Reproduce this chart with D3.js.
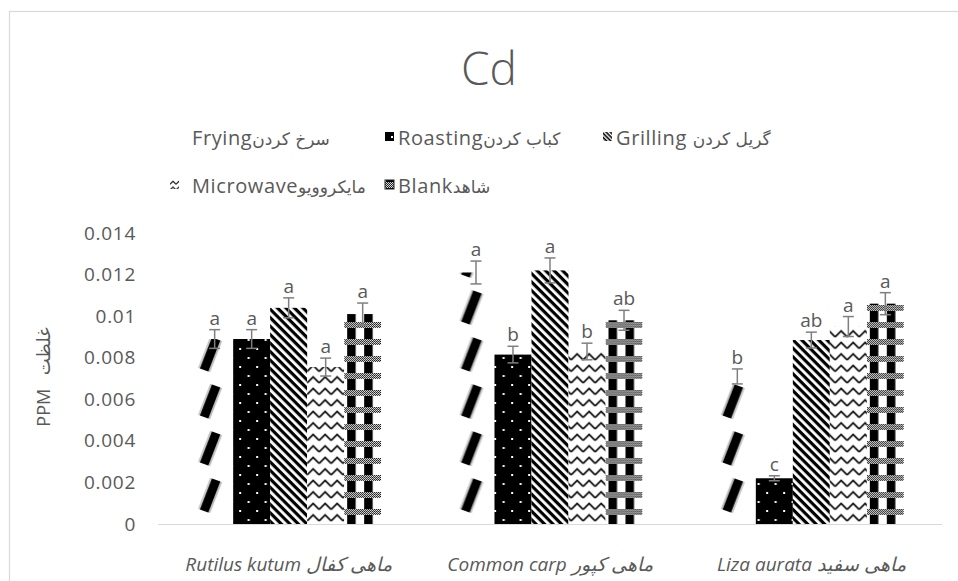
<!DOCTYPE html>
<html><head><meta charset="utf-8">
<script src="https://cdn.jsdelivr.net/npm/d3@7"></script>
<style>
html,body{margin:0;padding:0;background:#fff;}
svg{display:block;font-family:"Open Sans","DejaVu Sans",sans-serif;}
</style></head>
<body><svg id="c" width="958" height="581"></svg>
<script>
// ---- data ----
const categories = ["Rutilus kutum ماهی کفال", "Common carp ماهی کپور", "Liza aurata ماهی سفید"];
const seriesNames = ["Frying", "Roasting", "Grilling", "Microwave", "Blank"];
const legendLatin = ["Frying", "Roasting", "Grilling ", "Microwave", "Blank"];
const legendPersian = ["سرخ کردن", "کباب کردن", "گریل کردن", "مایکروویو", "شاهد"];
const frying    = [0.0089, 0.0121, 0.0071];
const roasting  = [0.0089, 0.00815, 0.0022];
const grilling  = [0.0104, 0.0122, 0.00885];
const microwave = [0.00755, 0.0083, 0.0095];
const blank     = [0.0101, 0.0098, 0.0106];
const fryingErr    = [0.00045, 0.00055, 0.00036];
const roastingErr  = [0.00045, 0.0004, 0.00012];
const grillingErr  = [0.00048, 0.0006, 0.00038];
const microwaveErr = [0.00043, 0.0004, 0.00048];
const blankErr     = [0.00053, 0.00048, 0.00053];
const fryingSig    = ["a", "a", "b"];
const roastingSig  = ["a", "b", "c"];
const grillingSig  = ["a", "a", "ab"];
const microwaveSig = ["a", "b", "a"];
const blankSig     = ["a", "ab", "a"];
const tickValues = [0, 0.002, 0.004, 0.006, 0.008, 0.01, 0.012, 0.014];
const tickLabels = ["0", "0.002", "0.004", "0.006", "0.008", "0.01", "0.012", "0.014"];
const title = "Cd";
const yTitle = "PPM غلظت";

const values = [frying, roasting, grilling, microwave, blank];
const errs = [fryingErr, roastingErr, grillingErr, microwaveErr, blankErr];
const sigs = [fryingSig, roastingSig, grillingSig, microwaveSig, blankSig];

// ---- layout ----
const svg = d3.select("#c");
const plot = {left: 158, right: 942, top: 233, bottom: 524};
const textColor = "#595959";

const x0 = d3.scaleBand().domain(categories).range([plot.left, plot.right])
  .paddingInner(0.292).paddingOuter(0.146);
const x1 = d3.scaleBand().domain(seriesNames).range([0, x0.bandwidth()]);
const y = d3.scaleLinear().domain([0, 0.014]).range([plot.bottom, plot.top]);
const bw = x1.bandwidth();
const step = x0.step();
const firstX = x0(categories[0]);

// chart border
svg.append("rect").attr("x", 9.5).attr("y", 11.5).attr("width", 1000).attr("height", 620)
  .attr("fill", "none").attr("stroke", "#d9d9d9").attr("stroke-width", 1.2);

// ---- patterns ----
const defs = svg.append("defs");
const chk = defs.append("pattern").attr("id", "chk").attr("patternUnits", "userSpaceOnUse")
  .attr("width", 2).attr("height", 2);
chk.append("rect").attr("width", 2).attr("height", 2).attr("fill", "#fff");
chk.append("rect").attr("width", 1).attr("height", 1).attr("fill", "#000");
chk.append("rect").attr("x", 1).attr("y", 1).attr("width", 1).attr("height", 1).attr("fill", "#000");

function makePattern(id, kind, ox, oy, sc) {
  const k = sc || 1;
  const p = defs.append("pattern").attr("id", id).attr("patternUnits", "userSpaceOnUse")
    .attr("x", ox).attr("y", oy);
  if (kind === 0) { // Frying: sparse blurred diagonal strokes
    p.attr("width", step).attr("height", 47);
    p.append("rect").attr("width", bw).attr("height", 47).attr("fill", "#fff");
    p.append("line").attr("x1", 8).attr("y1", 34).attr("x2", 20).attr("y2", 3)
      .attr("stroke", "#c4c4c4").attr("stroke-width", 13);
    p.append("line").attr("x1", 8).attr("y1", 34).attr("x2", 20).attr("y2", 3)
      .attr("stroke", "#000").attr("stroke-width", 9);
  } else if (kind === 1) { // Roasting: black with white dots
    p.attr("width", 17).attr("height", 18);
    p.append("rect").attr("width", 17).attr("height", 18).attr("fill", "#000");
    p.append("rect").attr("x", 6).attr("y", 4).attr("width", 2).attr("height", 2).attr("fill", "#fff");
    p.append("rect").attr("x", 14.5).attr("y", 13).attr("width", 2).attr("height", 2).attr("fill", "#fff");
  } else if (kind === 2) { // Grilling: dense diagonal stripes
    const w = 6 * k;
    p.attr("width", w).attr("height", w).attr("patternTransform", "rotate(45)");
    p.append("rect").attr("width", w).attr("height", w).attr("fill", "#fff");
    p.append("rect").attr("width", w).attr("height", w * 0.53).attr("fill", "#000");
  } else if (kind === 3) { // Microwave: zigzag
    const w = 12 * k, h = 11.5 * k;
    p.attr("width", w).attr("height", h);
    p.append("rect").attr("width", w).attr("height", h).attr("fill", "#fff");
    p.append("polyline").attr("points", `0,${8.5 * k} ${6 * k},${2.5 * k} ${12 * k},${8.5 * k}`).attr("fill", "none")
      .attr("stroke", "#111").attr("stroke-width", 1.7 * Math.max(k, 0.7));
  } else { // Blank: black columns + checker bands
    p.attr("width", step).attr("height", 17);
    p.append("rect").attr("width", bw).attr("height", 17).attr("fill", "#fff");
    [3, 20].forEach(cx => p.append("rect").attr("x", cx).attr("width", 8.5).attr("height", 17).attr("fill", "#000"));
    p.append("rect").attr("y", 2).attr("width", bw).attr("height", 6).attr("fill", "url(#chk)");
  }
}
seriesNames.forEach((s, i) => makePattern(`p${i}`, i, firstX + x1(s), plot.bottom));

// ---- title ----
svg.append("text").attr("x", 489).attr("y", 85).attr("text-anchor", "middle")
  .attr("font-size", 46).attr("font-weight", 300).attr("fill", textColor).text(title);

// ---- legend ----
const legendCols = [170, 385, 603];
const legendRows = [145, 193];
const lg = svg.append("g");
seriesNames.forEach((s, i) => {
  const kx = legendCols[i % 3], ly = legendRows[Math.floor(i / 3)];
  const ky = ly - 13;
  if (i === 0) {
    lg.append("rect").attr("x", kx).attr("y", ky).attr("width", 9).attr("height", 9).attr("fill", "#fff");
  } else {
    makePattern(`k${i}`, i, i === 4 ? kx - 2 : kx, ky, 0.5);
    lg.append("rect").attr("x", kx).attr("y", ky).attr("width", 9).attr("height", 9)
      .attr("fill", `url(#k${i})`).attr("stroke", i === 4 ? "#222" : "none").attr("stroke-width", 1);
  }
  const t = lg.append("text").attr("x", kx + (i % 3 === 0 ? 22 : 13)).attr("y", ly)
    .attr("fill", textColor).attr("direction", "ltr");
  t.append("tspan").attr("font-size", 20).attr("letter-spacing", "0.6px").text(legendLatin[i]);
  t.append("tspan").attr("font-size", 17).attr("font-family", "'DejaVu Sans',sans-serif").text(legendPersian[i]);
});

// ---- axes ----
const yAxis = d3.axisLeft(y).tickValues(tickValues).tickFormat((d, i) => tickLabels[i]).tickSize(0).tickPadding(0);
const gy = svg.append("g").attr("transform", `translate(136,0)`).call(yAxis);
gy.select(".domain").remove();
gy.selectAll("text").attr("font-size", 19).attr("fill", textColor)
  .attr("font-family", "'Open Sans','DejaVu Sans',sans-serif").attr("letter-spacing", "0.7px");

svg.append("line").attr("x1", plot.left).attr("x2", plot.right).attr("y1", y(0) + 0.5).attr("y2", y(0) + 0.5)
  .attr("stroke", "#d9d9d9").attr("stroke-width", 1.2);

const xAxis = d3.axisBottom(x0).tickSize(0).tickPadding(0);
const gx = svg.append("g").attr("transform", `translate(0,${plot.bottom + 33})`).call(xAxis);
gx.select(".domain").remove();
gx.selectAll("text").attr("font-size", 19).attr("font-style", "italic").attr("fill", textColor)
  .attr("font-family", "'Open Sans','DejaVu Sans',sans-serif").attr("direction", "ltr");

svg.append("text").attr("transform", `translate(50,377) rotate(-90)`).attr("text-anchor", "middle")
  .attr("font-size", 18).attr("word-spacing", "9px").attr("fill", textColor).attr("direction", "ltr").text(yTitle);

// ---- bars ----
const data = [];
categories.forEach((c, ci) => seriesNames.forEach((s, si) => {
  data.push({c, s, si, v: values[si][ci], e: errs[si][ci], sig: sigs[si][ci]});
}));

const g = svg.append("g");
g.selectAll("rect.bar").data(data).join("rect").attr("class", "bar")
  .attr("x", d => x0(d.c) + x1(d.s)).attr("width", bw)
  .attr("y", d => y(d.v)).attr("height", d => y(0) - y(d.v))
  .attr("fill", d => `url(#p${d.si})`);

// error bars
const eb = g.selectAll("g.err").data(data).join("g").attr("class", "err")
  .attr("stroke", "#7f7f7f").attr("stroke-width", 1.5);
const cx = d => x0(d.c) + x1(d.s) + bw / 2;
eb.append("line").attr("x1", cx).attr("x2", cx).attr("y1", d => y(d.v + d.e)).attr("y2", d => y(d.v - d.e));
eb.append("line").attr("x1", d => cx(d) - 5.5).attr("x2", d => cx(d) + 5.5).attr("y1", d => y(d.v + d.e)).attr("y2", d => y(d.v + d.e));
eb.append("line").attr("x1", d => cx(d) - 5.5).attr("x2", d => cx(d) + 5.5).attr("y1", d => y(d.v - d.e)).attr("y2", d => y(d.v - d.e));

// significance letters
g.selectAll("text.sig").data(data).join("text").attr("class", "sig")
  .attr("x", cx).attr("y", d => y(d.v + d.e) - 5).attr("text-anchor", "middle")
  .attr("font-size", 19).attr("fill", textColor).text(d => d.sig);
</script></body></html>
